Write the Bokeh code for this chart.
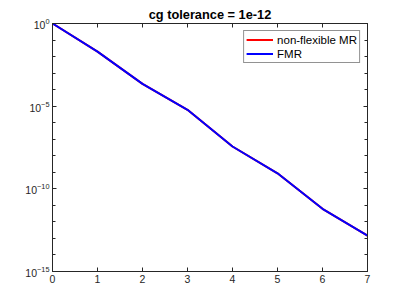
from bokeh.plotting import figure
from bokeh.models import LogAxis, LinearAxis, FixedTicker, Legend, LegendItem
from bokeh.embed import file_html
from bokeh.resources import INLINE

iterations = [0, 1, 2, 3, 4, 5, 6, 7]
log_res_mr = [0.0, -1.70, -3.65, -5.22, -7.44, -9.06, -11.21, -12.83]
log_res_fmr = [0.0, -1.70, -3.65, -5.22, -7.44, -9.06, -11.21, -12.83]
res_mr = [10 ** v for v in log_res_mr]
res_fmr = [10 ** v for v in log_res_fmr]
y_major = [1e0, 1e-5, 1e-10, 1e-15]
y_minor = [10.0 ** (-k) for k in range(16)]
x_ticks = [0, 1, 2, 3, 4, 5, 6, 7]

FONT = "Liberation Sans"
AX = "#262626"

p = figure(width=398, height=297, output_backend="svg", toolbar_location=None,
           y_axis_type="log", x_range=(0, 7), y_range=(1e-15, 1e0),
           frame_width=315, frame_height=248,
           min_border_left=52, min_border_right=31, min_border_top=23, min_border_bottom=26,
           title="cg tolerance = 1e-12")
p.title.align = "center"
p.title.text_font = FONT
p.title.text_font_size = "12.8px"
p.title.text_font_style = "bold"
p.title.text_color = "#000000"
p.title.standoff = 3
p.grid.visible = False
p.outline_line_color = None

r1 = p.line(iterations, res_mr, line_color="#ff0000", line_width=2)
r2 = p.line(iterations, res_fmr, line_color="#0000ff", line_width=2)

yt = FixedTicker(ticks=y_major, minor_ticks=y_minor)
xt = FixedTicker(ticks=x_ticks, minor_ticks=[])

def style(ax, labels=True):
    ax.axis_line_color = AX
    ax.major_tick_line_color = AX
    ax.minor_tick_line_color = AX
    ax.major_tick_in = 4
    ax.major_tick_out = 0
    ax.minor_tick_in = 3
    ax.minor_tick_out = 0
    ax.major_label_text_font = FONT
    ax.major_label_text_font_size = "10.5px"
    ax.major_label_text_color = AX
    if not labels:
        ax.major_label_text_font_size = "0px"
        ax.major_label_text_alpha = 0

p.yaxis[0].ticker = yt
p.xaxis[0].ticker = xt
style(p.yaxis[0])
style(p.xaxis[0])
p.yaxis[0].major_label_standoff = 3
p.xaxis[0].major_label_standoff = 3

ra = LogAxis(ticker=FixedTicker(ticks=y_major, minor_ticks=y_minor))
style(ra, labels=False)
p.add_layout(ra, "right")
ta = LinearAxis(ticker=FixedTicker(ticks=x_ticks, minor_ticks=[]))
style(ta, labels=False)
p.add_layout(ta, "above")

leg = Legend(items=[LegendItem(label="non-flexible MR", renderers=[r1]),
                    LegendItem(label="FMR", renderers=[r2])],
             location="top_right")
leg.label_text_font = FONT
leg.label_text_font_size = "11.5px"
leg.label_text_color = "#000000"
leg.border_line_color = AX
leg.border_line_width = 1
leg.glyph_width = 27
leg.glyph_height = 13
leg.label_height = 13
leg.spacing = 1
leg.padding = 2
leg.label_standoff = 4
leg.margin = 7
p.add_layout(leg, "center")

open("out.html", "w").write(file_html(p, INLINE))
